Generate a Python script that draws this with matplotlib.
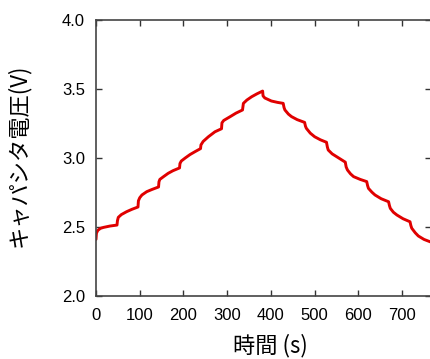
"""Capacitor voltage during stepwise charge and discharge."""

import matplotlib

matplotlib.use("Agg")
import matplotlib.pyplot as plt

# charge phase: time (s) and voltage (V)
charge_time = [
    0, 1, 4, 10, 17, 32, 48,
    49, 51, 58, 70, 82, 96,
    97, 100, 105, 116, 128, 143,
    144, 146, 154, 165, 176, 191,
    192, 195, 204, 215, 227, 239,
    240, 245, 257, 272, 287,
    288, 292, 307, 320, 335,
    337, 345, 356, 368, 381,
]
charge_volt = [
    2.410, 2.455, 2.475, 2.490, 2.497, 2.507, 2.514,
    2.545, 2.570, 2.590, 2.611, 2.628, 2.645,
    2.690, 2.712, 2.732, 2.756, 2.772, 2.790,
    2.828, 2.845, 2.864, 2.889, 2.908, 2.928,
    2.960, 2.978, 3.000, 3.025, 3.047, 3.068,
    3.095, 3.120, 3.154, 3.190, 3.212,
    3.255, 3.272, 3.300, 3.325, 3.348,
    3.396, 3.420, 3.444, 3.465, 3.485,
]

# discharge phase
discharge_time = [
    382, 386, 401, 415, 428,
    430, 432, 440, 447, 460, 477,
    479, 481, 490, 500, 513, 527,
    529, 531, 540, 550, 560, 570,
    572, 575, 582, 589, 604, 619,
    621, 623, 631, 638, 652, 669,
    671, 673, 680, 688, 702, 718,
    720, 722, 730, 737, 750, 764, 770,
]
discharge_volt = [
    3.450, 3.435, 3.413, 3.403, 3.396,
    3.365, 3.348, 3.318, 3.300, 3.278, 3.258,
    3.230, 3.215, 3.180, 3.154, 3.132, 3.114,
    3.080, 3.058, 3.030, 3.010, 2.990, 2.970,
    2.935, 2.913, 2.885, 2.865, 2.845, 2.829,
    2.800, 2.780, 2.752, 2.732, 2.705, 2.683,
    2.655, 2.635, 2.607, 2.587, 2.560, 2.538,
    2.510, 2.491, 2.458, 2.435, 2.410, 2.393, 2.388,
]

x_ticks = [0, 100, 200, 300, 400, 500, 600, 700]
y_ticks = [2.0, 2.5, 3.0, 3.5, 4.0]


def main():
    plt.rcParams["font.family"] = ["Liberation Sans", "Noto Sans CJK JP", "DejaVu Sans"]
    fig = plt.figure(figsize=(4.30, 3.59), dpi=100)
    ax = fig.add_axes([96 / 430, 63 / 359, 335 / 430, 276 / 359])

    ax.plot(
        charge_time + discharge_time,
        charge_volt + discharge_volt,
        color="#e00000",
        linewidth=2.1,
        solid_capstyle="round",
        solid_joinstyle="round",
    )

    ax.set_xlim(0, 766)
    ax.set_ylim(2.0, 4.0)
    ax.set_xticks(x_ticks)
    ax.set_yticks(y_ticks)
    ax.set_yticklabels([f"{v:.1f}" for v in y_ticks])
    ax.tick_params(
        direction="in", length=4, width=1, color="#333333",
        top=True, right=True, labelsize=12,
    )
    ax.tick_params(axis="y", pad=8)
    ax.tick_params(axis="x", pad=9)
    for spine in ax.spines.values():
        spine.set_color("#444444")
        spine.set_linewidth(1.2)

    cjk = ["Noto Sans CJK JP", "DejaVu Sans"]
    ax.set_xlabel("時間 (s)", fontsize=16, family=cjk)
    ax.set_ylabel("キャパシタ電圧(V)", fontsize=16, family=cjk)
    ax.xaxis.set_label_coords(0.52, -0.138)
    ax.yaxis.set_label_coords(-0.197, 0.51)

    fig.savefig("out.png", dpi=100)


if __name__ == "__main__":
    main()
